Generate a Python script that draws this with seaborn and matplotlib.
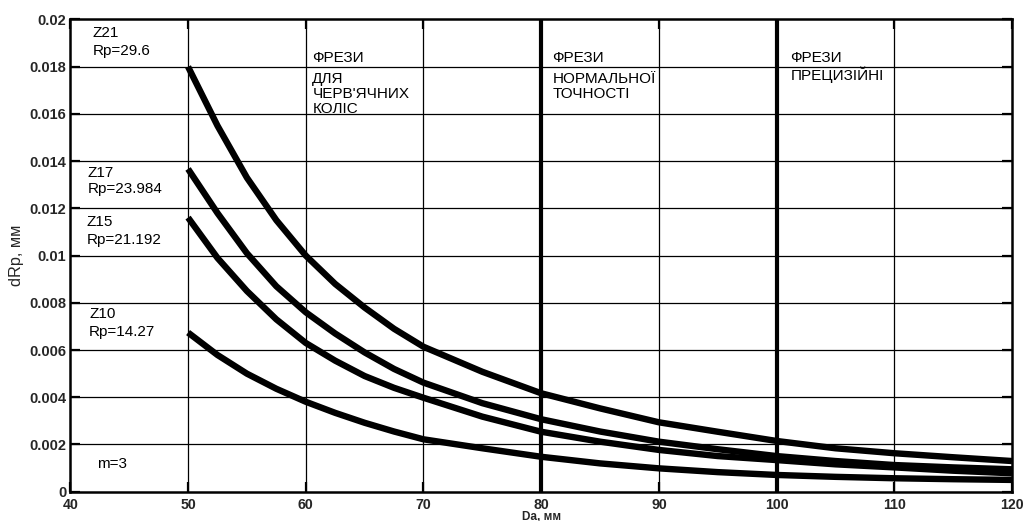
import matplotlib
matplotlib.use("Agg")
import matplotlib.pyplot as plt
import seaborn as sns
import pandas as pd

# ---- data ----
da = [50, 52.5, 55, 57.5, 60, 62.5, 65, 67.5, 70, 75, 80, 85, 90, 95, 100, 105, 110, 115, 120]
z21 = [0.0180, 0.0155, 0.0133, 0.0115, 0.0100, 0.0088, 0.0078, 0.0069, 0.00614, 0.00508,
       0.00417, 0.00353, 0.00294, 0.00254, 0.00215, 0.00184, 0.00163, 0.00146, 0.00130]
z17 = [0.01367, 0.0118, 0.0101, 0.0087, 0.0076, 0.0067, 0.0059, 0.0052, 0.00462, 0.00375,
       0.00307, 0.00255, 0.00212, 0.00180, 0.00151, 0.00130, 0.00113, 0.00103, 0.00095]
z15 = [0.01161, 0.0099, 0.0085, 0.0073, 0.0063, 0.00555, 0.0049, 0.0044, 0.00398, 0.00318,
       0.00254, 0.00212, 0.00177, 0.00151, 0.00134, 0.00116, 0.00103, 0.00089, 0.00078]
z10 = [0.00674, 0.00579, 0.0050, 0.00436, 0.00381, 0.00334, 0.00292, 0.00255, 0.00222, 0.00184,
       0.00148, 0.00120, 0.00099, 0.00083, 0.00071, 0.00063, 0.00057, 0.00053, 0.00050]
series_names = ["Z21", "Z17", "Z15", "Z10"]
series_labels = ["Z21\nRp=29.6", "Z17\nRp=23.984", "Z15\nRp=21.192", "Z10\nRp=14.27"]
x_ticks = [40, 50, 60, 70, 80, 90, 100, 110, 120]
y_ticks = [0, 0.002, 0.004, 0.006, 0.008, 0.01, 0.012, 0.014, 0.016, 0.018, 0.02]
y_tick_labels = ["0", "0.002", "0.004", "0.006", "0.008", "0.01", "0.012", "0.014",
                 "0.016", "0.018", "0.02"]
zone_bounds = [80, 100]
zone_texts = [["ФРЕЗИ", "ДЛЯ", "ЧЕРВ'ЯЧНИХ", "КОЛІС"],
              ["ФРЕЗИ", "НОРМАЛЬНОЇ", "ТОЧНОСТІ"],
              ["ФРЕЗИ", "ПРЕЦИЗІЙНІ"]]
x_label = "Da, мм"
y_label = "dRp, мм"
note = "m=3"

df = pd.DataFrame({
    "Da": da * 4,
    "dRp": z21 + z17 + z15 + z10,
    "series": sum([[n] * len(da) for n in series_names], []),
})

sns.set_theme(style="white")
plt.rcParams["font.family"] = ["Liberation Sans", "DejaVu Sans"]

fig = plt.figure(figsize=(10.27, 5.21), dpi=100)
ax = fig.add_axes([0.0685, 0.0562, 0.9169, 0.9064])

# grid
for xv in x_ticks[1:-1]:
    lw = 3.0 if xv in zone_bounds else 0.9
    ax.axvline(xv, color="black", lw=lw, zorder=1)
for yv in y_ticks[1:-1]:
    ax.axhline(yv, color="black", lw=0.9, zorder=1)

sns.lineplot(data=df, x="Da", y="dRp", hue="series", palette=["black"] * 4,
             legend=False, lw=4.6, ax=ax, zorder=3, solid_capstyle="butt",
             solid_joinstyle="round")

ax.set_xlim(40, 120)
ax.set_ylim(0, 0.02)
ax.set_xticks(x_ticks)
ax.set_xticklabels([str(v) for v in x_ticks], fontweight="bold", fontsize=10.2)
ax.set_yticks(y_ticks)
ax.set_yticklabels(y_tick_labels, fontweight="bold", fontsize=10.5)
ax.tick_params(axis="x", pad=4.5)
ax.tick_params(axis="y", pad=3)
ax.tick_params(direction="in", length=7, width=1.6, color="black",
               top=True, right=True, bottom=True, left=True)
for s in ax.spines.values():
    s.set_color("black")
    s.set_linewidth(1.8)
    s.set_visible(True)
ax.set_xlabel(x_label, fontsize=8.5, fontweight="bold", labelpad=-1)
ax.set_ylabel(y_label, fontsize=11.7, labelpad=4)

# pixel -> data helpers for text placement
def px2x(px):
    return 40 + (px - 70.3) / 11.775

def px2y(py):
    return (491.7 - py) / 23600.0

tk = dict(fontsize=11, color="black", ha="left", va="baseline", zorder=5)
lab_pos = [(92.5, 37, 55), (87.7, 177, 193.5), (86.7, 226.5, 244), (89, 318.5, 336.5)]
for lab, (px, b1, b2) in zip(series_labels, lab_pos):
    l1, l2 = lab.split("\n")
    ax.text(px2x(px), px2y(b1), l1, **tk)
    ax.text(px2x(px), px2y(b2), l2, **tk)
ax.text(px2x(97.3), px2y(468.3), note, **tk)

zone_px = [312.3, 552.7, 790.7]
for lines, px in zip(zone_texts, zone_px):
    ax.text(px2x(px), px2y(62.5), lines[0], **tk)
    for i, ln in enumerate(lines[1:]):
        base = 83.5 if len(lines) > 2 else 80.5
        ax.text(px2x(px), px2y(base + 15 * i), ln, **tk)

fig.savefig("out.png", dpi=100, facecolor="white")
